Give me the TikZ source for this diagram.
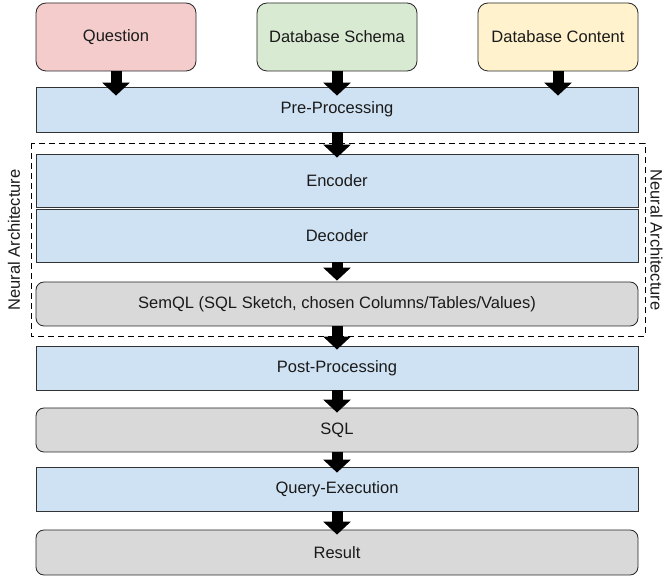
\documentclass[tikz,border=0pt]{standalone}
\usepackage{fontspec}
\setmainfont{Liberation Sans}
\usetikzlibrary{arrows.meta}
\definecolor{qred}{HTML}{F4CCCC}
\definecolor{sgreen}{HTML}{D9EAD3}
\definecolor{cyellow}{HTML}{FFF2CC}
\definecolor{pblue}{HTML}{CFE2F3}
\definecolor{rgray}{HTML}{D9D9D9}
\definecolor{txt}{HTML}{1A1A1A}
\begin{document}
\begin{tikzpicture}[x=1pt,y=-1pt,
  every node/.style={font=\fontsize{16.5}{19}\selectfont, text=txt},
  inbox/.style={draw=black!85, line width=0.8pt, rounded corners=10pt, minimum width=160pt, minimum height=68pt, inner sep=0pt},
  stage/.style={draw=black!80, line width=0.8pt, fill=pblue, minimum width=602pt, minimum height=#1, inner sep=0pt},
  artefact/.style={draw=black!85, line width=0.8pt, fill=rgray, rounded corners=8pt, minimum width=602pt, minimum height=#1, inner sep=0pt},
  flow/.style={line width=11pt, draw=black, -{Triangle[width=27pt,length=13pt]}},
  group/.style={draw=black, line width=0.9pt, dash pattern=on 6pt off 4pt}]
\useasboundingbox (0,0) rectangle (665,577);
\node[inbox, fill=qred] (q) at (116,37) {Question};
\node[inbox, fill=sgreen] (s) at (337,37) {Database Schema};
\node[inbox, fill=cyellow] (c) at (558,37) {Database Content};
\node[stage=45pt] (pre) at (337,109.5) {Pre-Processing};
\draw[group] (31,143) rectangle (645,336);
\node[stage=53pt] (enc) at (337,180.5) {Encoder};
\node[stage=53pt] (dec) at (337,235.5) {Decoder};
\node[artefact=44pt] (sem) at (337,304) {SemQL (SQL Sketch, chosen Columns/Tables/Values)};
\node[stage=44pt] (post) at (337,368) {Post-Processing};
\node[artefact=44pt] (sql) at (337,430) {SQL};
\node[stage=44pt] (qe) at (337,489) {Query-Execution};
\node[artefact=45pt] (res) at (337,552.5) {Result};
\node[rotate=90, inner sep=0pt] (ll) at (14,240) {Neural Architecture};
\node[rotate=-90, inner sep=0pt] (rl) at (656.5,240) {Neural Architecture};
\draw[flow] (q.south) -- ([yshift=-9pt]q.south |- pre.north);
\draw[flow] (s.south) -- ([yshift=-9pt]s.south |- pre.north);
\draw[flow] (c.south) -- ([yshift=-9pt]c.south |- pre.north);
\draw[flow] (pre.south) -- ([yshift=-4pt]enc.north);
\draw[flow] (dec.south) -- ([yshift=1pt]sem.north);
\draw[flow] (sem.south) -- ([yshift=-4pt]post.north);
\draw[flow] (post.south) -- ([yshift=-5pt]sql.north);
\draw[flow] (sql.south) -- ([yshift=-6pt]qe.north);
\draw[flow] (qe.south) -- ([yshift=-5pt]res.north);
\end{tikzpicture}
\end{document}
